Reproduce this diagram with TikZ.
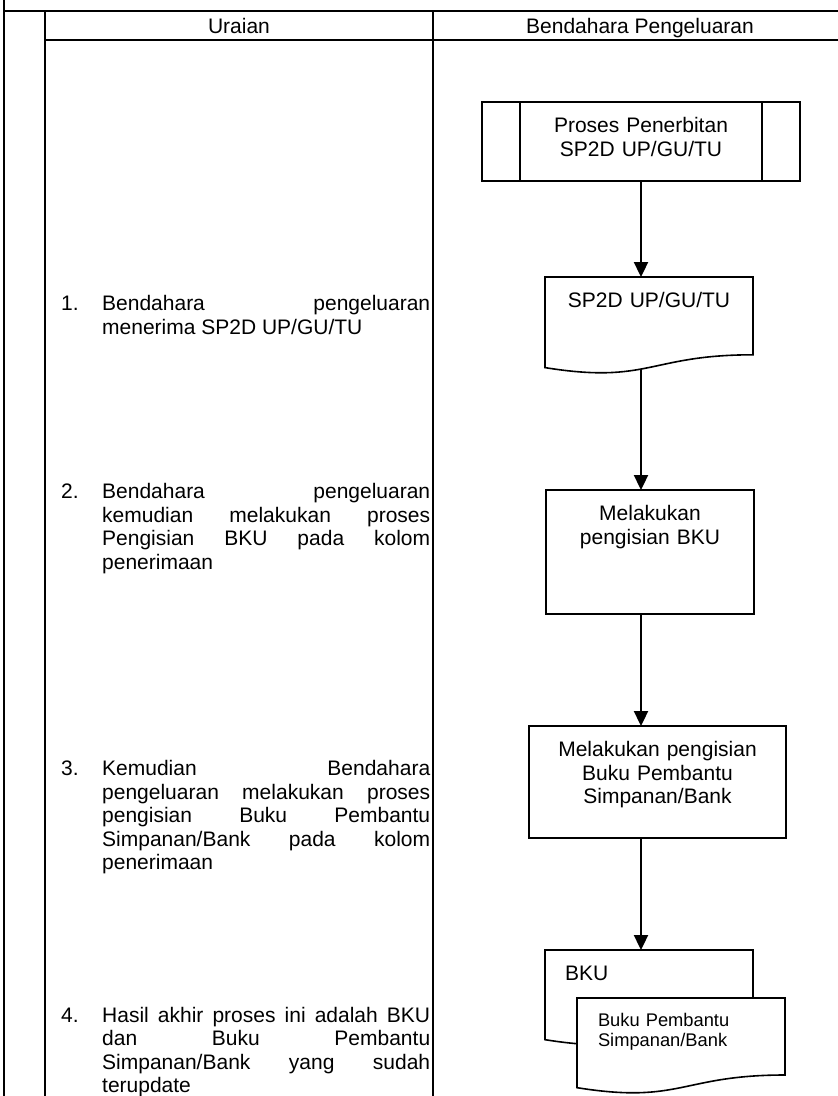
\documentclass[tikz,border=0pt]{standalone}
\usepackage{fontspec}
\setmainfont{Liberation Sans}
\usetikzlibrary{arrows.meta,calc}

\def\boxtop{30.5pt}
\def\numsep{41pt}

% outline of a flowchart document shape round a named node
\newcommand{\docoutline}[1]{%
  \draw[doc line] let \p1=(#1.north west), \p2=(#1.south east) in
    (\p1) -- (\x2,\y1) -- (\x2,{\y1+0.802*(\y2-\y1)})
    .. controls ({0.5*(\x1+\x2)},{\y1+0.802*(\y2-\y1)}) and ({0.5*(\x1+\x2)},{\y1+1.1075*(\y2-\y1)}) .. (\x1,{\y1+0.934*(\y2-\y1)}) -- cycle;}

\newcommand{\uraianitem}[2]{\noindent\hangindent=\numsep\hangafter=1\makebox[\numsep][l]{#1}#2\par}

\begin{document}
\begin{tikzpicture}[x=1pt, y=-1pt, font=\fontsize{21}{23.5}\selectfont]
    \tikzstyle{table line}=[line width=2.2pt]
    \tikzstyle{flow box}=[draw, line width=1.6pt, anchor=north, inner sep=0pt, outer sep=0pt, text height=\boxtop, align=center]
    \tikzstyle{proc box}=[flow box, path picture={
        \draw ([xshift=38pt]path picture bounding box.north west) -- ([xshift=38pt]path picture bounding box.south west);
        \draw ([xshift=-38pt]path picture bounding box.north east) -- ([xshift=-38pt]path picture bounding box.south east);}]
    \tikzstyle{doc box}=[flow box, draw=none]
    \tikzstyle{doc line}=[line width=1.6pt]
    \tikzstyle{flow}=[line width=2.3pt, -{Triangle[length=15pt,width=14pt]}]
    \tikzstyle{uraian}=[anchor=base west, text width=369pt, align=justify, inner sep=0pt]

    \useasboundingbox (0,0) rectangle (838,1096);

    % table
    \draw[table line] (4,0) -- (4,1096);
    \draw[table line] (4,11) -- (838,11);
    \draw[table line] (45,11) -- (45,1096);
    \draw[table line] (45,40) -- (838,40);
    \draw[table line] (433,11) -- (433,1096);

    \node[anchor=base] (head-uraian) at (239,33.5) {Uraian};
    \node[anchor=base] (head-bendahara) at (640,33.5) {Bendahara Pengeluaran};

    % uraian column
    \node[uraian] (U-1) at (61,310.5) {\uraianitem{1.}{Bendahara pengeluaran\linebreak menerima SP2D UP/GU/TU}};
    \node[uraian] (U-2) at (61,498.5) {\uraianitem{2.}{Bendahara pengeluaran\linebreak kemudian melakukan proses\linebreak Pengisian BKU pada kolom\linebreak penerimaan}};
    \node[uraian] (U-3) at (61,775.5) {\uraianitem{3.}{Kemudian Bendahara\linebreak pengeluaran melakukan proses\linebreak pengisian Buku Pembantu\linebreak Simpanan/Bank pada kolom\linebreak penerimaan}};
    \node[uraian] (U-4) at (61,1022) {\uraianitem{4.}{Hasil akhir proses ini adalah BKU\linebreak dan Buku Pembantu\linebreak Simpanan/Bank yang sudah\linebreak terupdate}};

    % bendahara column
    \node[proc box, text width=318pt, text depth=48.5pt] (proc) at (641,102) {Proses Penerbitan\\SP2D UP/GU/TU};
    \node[doc box, text width=208pt, text depth=66.5pt] (sp2d) at (649,277) {SP2D UP/GU/TU};
    \docoutline{sp2d}
    \node[flow box, text width=208pt, text depth=93.5pt] (bku-fill) at (650,490) {Melakukan\\pengisian BKU};
    \node[flow box, text width=257pt, text depth=81.5pt] (bpsb-fill) at (657.5,726) {Melakukan pengisian\\Buku Pembantu\\Simpanan/Bank};
    \node[doc box, align=left, text width=168pt, inner xsep=20pt, text depth=65.5pt] (bku) at (649,950) {BKU};
    \docoutline{bku}
    \node[doc box, align=left, fill=white, text width=166pt, inner xsep=21pt, text height=28.5pt, text depth=67.5pt,
          font=\fontsize{18.3}{20}\selectfont] (bpsb) at (681,998) {Buku Pembantu\\Simpanan/Bank};
    \docoutline{bpsb}

    \draw[flow] (proc.south) -- (proc.south |- sp2d.north);
    \draw[flow] ([yshift=5pt]sp2d.south -| proc.south) -- (proc.south |- bku-fill.north);
    \draw[flow] (bku-fill.south -| proc.south) -- (proc.south |- bpsb-fill.north);
    \draw[flow] (bpsb-fill.south -| proc.south) -- (proc.south |- bku.north);
\end{tikzpicture}
\end{document}
